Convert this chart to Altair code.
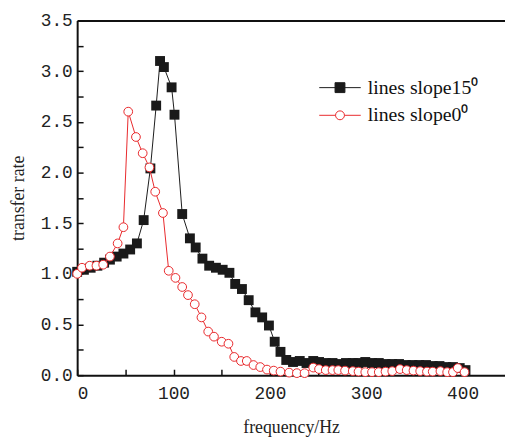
import altair as alt
import pandas as pd

series_names = ["lines slope15\u2070", "lines slope0\u2070"]

freq_15 = [0, 7, 14, 21, 28, 34, 41, 48, 55, 62, 69, 76, 82, 86, 90, 98, 101, 109, 117, 123,
           130, 137, 144, 151, 158, 164, 171, 178, 185, 192, 199, 205, 211, 217, 224, 231, 238, 245, 251, 258,
           265, 272, 279, 286, 292, 299, 306, 313, 320, 327, 334, 341, 348, 355, 362, 369, 376, 383, 390, 397, 403]
rate_15 = [1.02, 1.04, 1.06, 1.08, 1.11, 1.14, 1.17, 1.20, 1.24, 1.30, 1.53, 2.04, 2.66, 3.10, 3.04, 2.84, 2.57, 1.59, 1.35, 1.26,
           1.15, 1.08, 1.06, 1.04, 1.01, 0.90, 0.85, 0.74, 0.62, 0.57, 0.49, 0.33, 0.23, 0.15, 0.13, 0.14, 0.12, 0.14, 0.13, 0.12,
           0.12, 0.11, 0.12, 0.12, 0.12, 0.13, 0.12, 0.12, 0.11, 0.11, 0.11, 0.10, 0.10, 0.10, 0.10, 0.09, 0.09, 0.08, 0.08, 0.07, 0.05]

freq_0 = [0, 5, 13, 20, 27, 34, 42, 48, 53, 61, 68, 75, 81, 89, 95, 102, 109, 115, 122, 129,
          136, 142, 150, 157, 163, 170, 176, 183, 190, 197, 204, 211, 220, 228, 236, 245, 251, 258, 265, 271,
          278, 286, 292, 299, 306, 313, 320, 327, 335, 342, 349, 356, 363, 369, 377, 384, 390, 395, 402]
rate_0 = [1.00, 1.06, 1.08, 1.08, 1.09, 1.17, 1.30, 1.46, 2.60, 2.35, 2.19, 2.05, 1.81, 1.60, 1.03, 0.96, 0.87, 0.79, 0.70, 0.57,
          0.43, 0.38, 0.33, 0.31, 0.18, 0.14, 0.14, 0.10, 0.08, 0.055, 0.045, 0.035, 0.025, 0.02, 0.02, 0.075, 0.06, 0.05, 0.05, 0.05,
          0.045, 0.04, 0.035, 0.03, 0.03, 0.03, 0.035, 0.04, 0.06, 0.05, 0.045, 0.04, 0.035, 0.035, 0.04, 0.03, 0.03, 0.07, 0.03]

x_major = [0, 100, 200, 300, 400]
x_ticks = [0, 50, 100, 150, 200, 250, 300, 350, 400]
y_major = [0, 0.5, 1.0, 1.5, 2.0, 2.5, 3.0, 3.5]
y_ticks = [i * 0.25 for i in range(15)]

BLACK = "#1a1a1a"
RED = "#e8282b"
FONT = "Liberation Serif"
LABEL_FONT = "Liberation Mono"

df = pd.DataFrame({
    "freq": freq_15 + freq_0,
    "rate": rate_15 + rate_0,
    "series": [series_names[0]] * len(freq_15) + [series_names[1]] * len(freq_0),
})

xscale = alt.Scale(domain=[0, 444], nice=False, zero=False)
yscale = alt.Scale(domain=[0, 3.5], nice=False, zero=False)


def X(axis):
    return alt.X("freq:Q", scale=xscale, axis=axis)


def Y(axis):
    return alt.Y("rate:Q", scale=yscale, axis=axis)


base = alt.Chart(df)
s15 = base.transform_filter(alt.datum.series == series_names[0])
s0 = base.transform_filter(alt.datum.series == series_names[1])

main_x = alt.Axis(orient="bottom", values=x_major, format="d", title="frequency/Hz",
                  tickSize=0, labelPadding=10, domainWidth=2, domainColor="#111",
                  labelFont=LABEL_FONT, titleFont=FONT,
                  labelFontSize=18, titleFontSize=18, titlePadding=16, grid=False)
main_y = alt.Axis(orient="left", values=y_major, format=".1f", title="transfer rate",
                  tickSize=0, labelPadding=5, domainWidth=2, domainColor="#111",
                  labelFont=LABEL_FONT, titleFont=FONT,
                  labelFontSize=18, titleFontSize=18, titlePadding=13, grid=False)
tick_x = alt.Axis(orient="bottom", values=x_ticks, offset=-6, domain=False, labels=False,
                  tickSize=6, tickWidth=1.5, tickColor="#111", title=None, grid=False)
tick_y = alt.Axis(orient="left", values=y_ticks, offset=-6, domain=False, labels=False,
                  tickSize=6, tickWidth=1.5, tickColor="#111", title=None, grid=False)
top_x = alt.Axis(orient="top", domain=True, domainWidth=2, domainColor="#111", labels=False,
                 ticks=False, title=None, grid=False)

line15 = s15.mark_line(color=BLACK, strokeWidth=1).encode(x=X(main_x), y=Y(main_y))
pts15 = s15.mark_square(size=100, color=BLACK, opacity=1).encode(x=X(tick_x), y=Y(tick_y))
line0 = s0.mark_line(color=RED, strokeWidth=1).encode(x=X(top_x), y=Y(None))
pts0 = s0.mark_point(shape="circle", size=78, filled=True, fill="white", stroke=RED,
                     strokeWidth=1, opacity=1).encode(x=X(None), y=Y(None))

path_sq = "M-4.2,0H4.2M-1,-1H1V1H-1Z"
path_ci = "M-4.2,0H-0.9M0.9,0H4.2M0.9,0A0.9,0.9,0,1,1,-0.9,0A0.9,0.9,0,1,1,0.9,0Z"

leg = dict(orient="none", legendX=256, legendY=58, title=None, labelOffset=18,
           symbolSize=100, symbolStrokeWidth=1, rowPadding=8, padding=0,
           labelFont=FONT, labelFontSize=20, labelColor="#111", labelLimit=300)

legend_layer = base.transform_filter("false").mark_point(filled=True, opacity=1, strokeWidth=1).encode(
    x=X(None), y=Y(None),
    shape=alt.Shape("series:N", scale=alt.Scale(domain=series_names, range=[path_sq, path_ci]),
                    legend=alt.Legend(**leg)),
    fill=alt.Fill("series:N", scale=alt.Scale(domain=series_names, range=[BLACK, "white"]),
                  legend=alt.Legend(**leg)),
    stroke=alt.Stroke("series:N", scale=alt.Scale(domain=series_names, range=[BLACK, RED]),
                      legend=alt.Legend(**leg)),
)

chart = alt.layer(line15, pts15, line0, pts0, legend_layer).resolve_axis(
    x="independent", y="independent"
).properties(
    width=433, height=359,
    padding={"left": 70, "top": 10, "right": 0, "bottom": 62},
    autosize=alt.AutoSizeParams(type="none"),
).configure(
    font=FONT
).configure_view(stroke=None).configure_axis(
    labelColor="#222", titleColor="#222", titleFontWeight="normal"
).configure_legend(labelFont=FONT)

chart.save("out.html", embed_options={"renderer": "svg", "actions": False})
